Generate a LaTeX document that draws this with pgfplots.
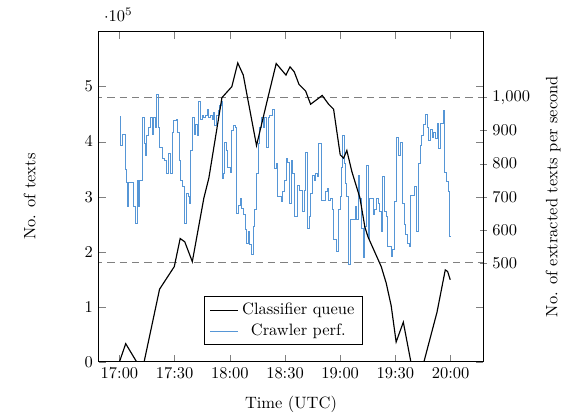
\documentclass[border=0pt]{standalone}
\usepackage{pgfplots}
\pgfplotsset{compat=1.18}
\usetikzlibrary{calc}
\definecolor{crawl}{RGB}{86,150,214}
\definecolor{dashgray}{RGB}{128,128,128}

\begin{document}
\begin{tikzpicture}
\pgfplotsset{
  common/.style={scale only axis, width=233.5pt, height=200.6pt,
    xmin=-11.25, xmax=197.7},
}
% right axis: crawler throughput (drawn first, so the queue line lies on top)
\begin{axis}[common,
    axis x line=none,
    axis y line*=right,
    ymin=200, ymax=1200,
    ytick={500,600,...,1000},
    tick align=center,
    ylabel={No. of extracted texts per second},
    ylabel style={at={(axis description cs:1.182,0.5)}, anchor=center},
]
\addplot[dashgray, dash pattern=on 4.5pt off 3pt, forget plot] coordinates {(-20,500) (210,500)};
\addplot[dashgray, dash pattern=on 4.5pt off 3pt, forget plot] coordinates {(-20,1000) (210,1000)};
\addplot[crawl, line width=0.5pt, const plot, forget plot] coordinates {
(0.36,943) (0.71,855) (1.61,890) (3.04,782) (3.57,742) (4.28,670) (4.82,742)
(7.5,670) (8.57,620) (9.64,750) (10.4,670) (11.07,750) (12.5,940) (13.75,860)
(14.3,825) (14.64,885) (15.5,910) (16.8,940) (17.9,890) (18.6,940) (19.6,910)
(20.2,1010) (20.9,910) (21.8,850) (23.2,815) (24.5,810) (25.4,770) (26.8,830)
(27.5,770) (28.6,895) (29.5,930) (30.7,935) (31.6,895) (32.5,810) (33.4,750)
(34.3,730) (35.2,620) (36.4,710) (37.5,700) (38.2,680) (38.7,840) (39.6,940)
(40.5,890) (41.4,920) (42.3,885) (42.9,990) (44.1,935) (45.0,945) (45.9,940)
(46.8,945) (47.7,965) (48.6,940) (49.4,945) (50.3,935) (51.2,955) (51.8,915)
(52.7,945) (53.6,960) (54.3,975) (55.2,990) (55.7,755) (56.6,770) (57.1,865)
(58.0,840) (58.9,790) (60.2,775) (61.0,900) (61.9,915) (62.9,910) (63.7,650)
(64.6,675) (65.5,695) (66.4,665) (67.3,645) (68.2,600) (69.1,560) (70.0,595)
(70.9,555) (71.8,525) (72.7,610) (73.6,660) (74.5,770) (75.3,860) (76.2,910)
(77.1,940) (78.0,910) (78.9,940) (79.8,850) (80.7,940) (81.6,945) (83.4,965)
(84.3,785) (85.2,800) (86.1,700) (87.8,685) (88.7,715) (89.6,750) (90.5,815)
(91.4,805) (92.3,680) (93.2,810) (94.1,770) (95.0,640) (96.8,735) (97.7,720)
(99.5,655) (100.3,720) (101.2,835) (102.1,605) (103.0,640) (103.9,710)
(104.8,765) (105.7,750) (106.6,770) (107.5,760) (108.4,860) (109.8,690)
(111.9,715) (112.8,725) (113.7,690) (114.6,695) (115.5,660) (116.4,570)
(118.2,535) (119.1,660) (119.9,700) (120.9,790) (121.4,885) (122.1,800)
(122.8,740) (123.6,700) (124.4,495) (125.3,630) (128.0,670) (128.9,630)
(129.8,765) (130.7,695) (131.6,605) (132.5,515) (133.4,610) (134.3,795)
(135.2,575) (136.1,695) (137.9,645) (138.8,660) (139.7,695) (140.6,680)
(141.5,655) (142.3,595) (143.2,760) (144.1,655) (145.0,640) (145.9,550)
(147.6,520) (148.6,540) (149.4,685) (150.3,880) (151.8,825) (152.7,865)
(153.9,680) (154.8,615) (155.7,585) (156.6,560) (157.5,550) (158.4,705)
(160.5,730) (161.4,595) (162.5,800) (163.4,855) (164.3,885) (165.2,920)
(166.1,950) (167.4,910) (168.2,870) (169.1,905) (170.0,880) (170.9,895)
(171.8,875) (172.7,922) (173.6,845) (174.5,922) (175.9,960) (176.8,775)
(177.7,745) (178.6,715) (179.5,580) (180,580)
};
\end{axis}
% left axis: classifier queue
\begin{axis}[common,
    name=main,
    ymin=0, ymax=600000,
    ytick={0,100000,200000,300000,400000,500000},
    scaled y ticks=base 10:-5,
    xtick={0,30,60,90,120,150,180},
    xticklabels={17:00,17:30,18:00,18:30,19:00,19:30,20:00},
    xlabel={Time (UTC)},
    ylabel={No. of texts},
    xlabel style={at={(axis description cs:0.5,-0.128)}, anchor=center},
    ylabel style={at={(axis description cs:-0.18,0.5)}, anchor=center},
    legend cell align=center,
    legend style={at={(0.481,0.051)}, anchor=south, draw=black},
]
\addplot[black, line width=0.7pt] coordinates {
(0,0) (3.4,33000) (9.3,0) (13.4,0) (21.8,132000) (29.8,173000) (33,224000)
(35.5,218000) (39.6,182000) (45.9,298000) (48.6,334000) (55.7,480000)
(61.1,500000) (64.3,543000) (67.3,521000) (74.5,393000) (80.7,480000)
(85.2,542000) (90.5,521000) (92.7,536000) (95,527000) (97.6,504000)
(101.2,492000) (103.9,468000) (107.5,477000) (110.2,484000) (113.7,468000)
(116.4,459000) (120,376000) (121.8,370000) (123.6,384000) (126.3,346000)
(130.7,298000) (133.4,245000) (135.1,227000) (142.3,173000) (145,143000)
(147.7,102000) (150.4,36000) (154.3,72000) (158.4,0) (165.5,0)
(172.6,90000) (177.1,167000) (178.4,164000) (179.8,149000)
};
\addlegendentry{Classifier queue}
\addlegendimage{crawl, line width=0.5pt}
\addlegendentry{Crawler perf.}
\end{axis}
\path ($(main.south west)+(-60pt,-32.3pt)$) rectangle ($(main.north east)+(45.5pt,19.2pt)$);
\end{tikzpicture}
\end{document}
